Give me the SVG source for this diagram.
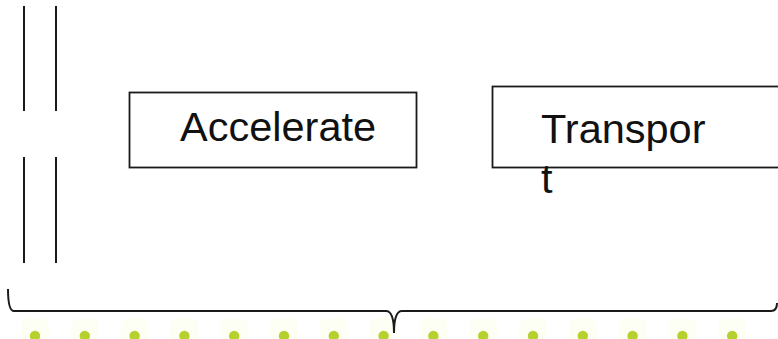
<svg xmlns="http://www.w3.org/2000/svg" width="778" height="339" viewBox="0 0 778 339">
  <defs>
    <style>
      .box { fill: #ffffff; stroke: #1a1a1a; stroke-width: 1.8; }
      .lbl { font-family: "Liberation Sans", Arial, sans-serif; font-size: 41.5px; fill: #111111; }
      .rule { stroke: #1a1a1a; stroke-width: 2; fill: none; }
      .dot { fill: #b6d02e; }
      .glow { fill: #fdfef4; }
    </style>
    <g id="bead">
      <rect class="glow" x="-14" y="-18" width="28" height="24" rx="8"/>
      <circle class="dot" cx="0" cy="0" r="5.2"/>
    </g>
  </defs>
  <rect width="778" height="339" fill="#ffffff"/>

  <!-- double vertical rules on the left -->
  <g id="rails">
    <line class="rule" x1="24" y1="6" x2="24" y2="111"/>
    <line class="rule" x1="56" y1="6" x2="56" y2="111"/>
    <line class="rule" x1="24" y1="157" x2="24" y2="263"/>
    <line class="rule" x1="56" y1="157" x2="56" y2="263"/>
  </g>

  <g id="node-accelerate">
    <rect class="box" x="129.5" y="92.5" width="287" height="75"/>
    <text class="lbl" x="180" y="141">Accelerate</text>
  </g>

  <g id="node-transport">
    <rect class="box" x="492.5" y="86.5" width="300" height="81"/>
    <text class="lbl" x="541" y="143">Transpor</text>
    <text class="lbl" x="541" y="193">t</text>
  </g>

  <!-- bead row along the bottom edge -->
  <g id="beads">
    <use href="#bead" x="35" y="336"/>
    <use href="#bead" x="84.8" y="336"/>
    <use href="#bead" x="134.6" y="336"/>
    <use href="#bead" x="184.4" y="336"/>
    <use href="#bead" x="234.2" y="336"/>
    <use href="#bead" x="284" y="336"/>
    <use href="#bead" x="333.8" y="336"/>
    <use href="#bead" x="383.6" y="336"/>
    <use href="#bead" x="433.4" y="336"/>
    <use href="#bead" x="483.2" y="336"/>
    <use href="#bead" x="533" y="336"/>
    <use href="#bead" x="582.8" y="336"/>
    <use href="#bead" x="632.6" y="336"/>
    <use href="#bead" x="682.4" y="336"/>
    <use href="#bead" x="732.2" y="336"/>
  </g>

  <g id="connectors">
    <!-- curly brace spanning the width -->
    <path class="rule" d="M8,289 Q8,311 14,311 H386 Q394,311 394,333 Q394,311 402,311 H771 Q777,311 777,303"/>
  </g>
</svg>
